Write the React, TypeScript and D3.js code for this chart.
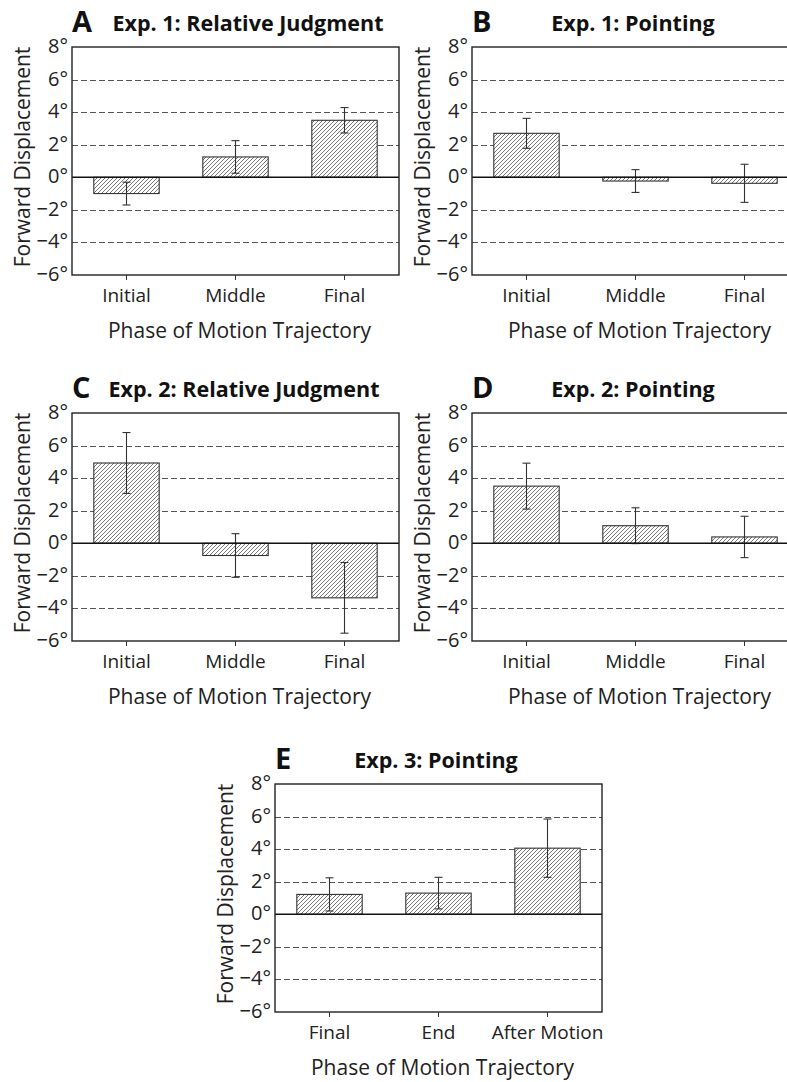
import React, { useRef, useEffect } from "react";
import { select, scaleLinear, scaleBand } from "d3";

// Chart values (degrees of forward displacement)

const phasesExp12 = ["Initial", "Middle", "Final"];
const phasesExp3 = ["Final", "End", "After Motion"];

const exp1RelMean = [-1.0, 1.25, 3.5];
const exp1RelErr = [0.7, 1.0, 0.78];

const exp1PointMean = [2.7, -0.23, -0.37];
const exp1PointErr = [0.92, 0.7, 1.17];

const exp2RelMean = [4.93, -0.75, -3.35];
const exp2RelErr = [1.87, 1.34, 2.17];

const exp2PointMean = [3.51, 1.08, 0.39];
const exp2PointErr = [1.41, 1.1, 1.27];

const exp3PointMean = [1.22, 1.3, 4.06];
const exp3PointErr = [1.02, 0.97, 1.79];

const yTicks = [-6, -4, -2, 0, 2, 4, 6, 8];
const yDomain = [-6, 8];

const panelLetters = ["A", "B", "C", "D", "E"];
const panelTitles = [
  "Exp. 1: Relative Judgment",
  "Exp. 1: Pointing",
  "Exp. 2: Relative Judgment",
  "Exp. 2: Pointing",
  "Exp. 3: Pointing",
];

const yAxisTitle = "Forward Displacement";
const xAxisTitle = "Phase of Motion Trajectory";

const W = 787,
  H = 1082,
  plotW = 327,
  plotH = 228,
  font = "'Open Sans', 'DejaVu Sans', sans-serif";

const panels = [
  { left: 72, top: 47, titleX: 176, cats: phasesExp12, mean: exp1RelMean, err: exp1RelErr },
  { left: 472, top: 47, titleX: 161, cats: phasesExp12, mean: exp1PointMean, err: exp1PointErr },
  { left: 72, top: 413, titleX: 172, cats: phasesExp12, mean: exp2RelMean, err: exp2RelErr },
  { left: 472, top: 413, titleX: 161, cats: phasesExp12, mean: exp2PointMean, err: exp2PointErr },
  { left: 275, top: 784, titleX: 161, cats: phasesExp3, mean: exp3PointMean, err: exp3PointErr },
];

const fmtDeg = (v: number) => (v < 0 ? "\u2212" + Math.abs(v) : "" + v) + "\u00B0";

export default function App() {
  const svgRef = useRef<SVGSVGElement>(null);

  useEffect(() => {
    const svg = select(svgRef.current).attr("width", W).attr("height", H);
    svg.selectAll("*").remove();

    svg.append("rect").attr("width", W).attr("height", H).attr("fill", "#fff");

    // diagonal hatch used for all bars
    const pat = svg
      .append("defs")
      .append("pattern")
      .attr("id", "hatch")
      .attr("patternUnits", "userSpaceOnUse")
      .attr("width", 4)
      .attr("height", 4);
    pat.append("rect").attr("width", 4).attr("height", 4).attr("fill", "#fff");
    pat
      .append("path")
      .attr("d", "M-1,1 l2,-2 M0,4 l4,-4 M3,5 l2,-2")
      .attr("stroke", "#555")
      .attr("stroke-width", 0.8);

    panels.forEach((p, i) => {
      const g = svg.append("g").attr("transform", `translate(${p.left},${p.top})`);

      const x = scaleBand<string>().domain(p.cats).range([0, plotW]).paddingInner(0.4).paddingOuter(0.2);
      const y = scaleLinear().domain(yDomain).range([plotH, 0]);

      // dashed grid
      g.selectAll(".grid")
        .data(yTicks.filter((t) => t !== 0 && t !== yDomain[0] && t !== yDomain[1]))
        .join("line")
        .attr("x1", 0)
        .attr("x2", plotW)
        .attr("y1", (d) => Math.round(y(d)) + 0.5)
        .attr("y2", (d) => Math.round(y(d)) + 0.5)
        .attr("stroke", "#555")
        .attr("stroke-width", 1.2)
        .attr("stroke-dasharray", "6,3");

      // bars
      g.selectAll(".bar")
        .data(p.mean)
        .join("rect")
        .attr("x", (d, j) => x(p.cats[j])!)
        .attr("width", x.bandwidth())
        .attr("y", (d) => y(Math.max(0, d)))
        .attr("height", (d) => Math.abs(y(d) - y(0)))
        .attr("fill", "url(#hatch)")
        .attr("stroke", "#333")
        .attr("stroke-width", 1.1);

      // error bars
      p.mean.forEach((m, j) => {
        const cx = x(p.cats[j])! + x.bandwidth() / 2;
        const eg = g.append("g").attr("stroke", "#333").attr("stroke-width", 1.1);
        eg.append("line").attr("x1", cx).attr("x2", cx).attr("y1", y(m + p.err[j])).attr("y2", y(m - p.err[j]));
        [m + p.err[j], m - p.err[j]].forEach((v) => {
          eg.append("line").attr("x1", cx - 4).attr("x2", cx + 4).attr("y1", y(v)).attr("y2", y(v));
        });
      });

      // zero line
      g.append("line")
        .attr("x1", 0)
        .attr("x2", plotW)
        .attr("y1", y(0))
        .attr("y2", y(0))
        .attr("stroke", "#111")
        .attr("stroke-width", 1.5);

      // frame
      g.append("rect")
        .attr("width", plotW)
        .attr("height", plotH)
        .attr("fill", "none")
        .attr("stroke", "#222")
        .attr("stroke-width", 1.4);

      // x ticks and labels
      p.cats.forEach((c) => {
        const cx = x(c)! + x.bandwidth() / 2;
        g.append("line").attr("x1", cx).attr("x2", cx).attr("y1", plotH).attr("y2", plotH + 5).attr("stroke", "#333");
        g.append("text")
          .attr("x", cx)
          .attr("y", plotH + 27)
          .attr("text-anchor", "middle")
          .attr("font-family", font)
          .attr("font-size", 19)
          .attr("fill", "#222")
          .text(c);
      });

      // y tick labels
      g.selectAll(".ytick")
        .data(yTicks)
        .join("text")
        .attr("x", -4)
        .attr("y", (d) => y(d))
        .attr("dy", "0.3em")
        .attr("text-anchor", "end")
        .attr("font-family", font)
        .attr("font-size", 20)
        .attr("fill", "#222")
        .text((d) => fmtDeg(d));

      // axis titles
      g.append("text")
        .attr("transform", `translate(-42,${plotH / 2 - 4}) rotate(-90)`)
        .attr("text-anchor", "middle")
        .attr("font-family", font)
        .attr("font-size", 21)
        .attr("fill", "#222")
        .text(yAxisTitle);

      g.append("text")
        .attr("x", plotW / 2 + 4)
        .attr("y", plotH + 63)
        .attr("text-anchor", "middle")
        .attr("font-family", font)
        .attr("font-size", 21)
        .attr("fill", "#222")
        .text(xAxisTitle);

      // panel letter and title
      g.append("text")
        .attr("x", 0)
        .attr("y", -15)
        .attr("font-family", font)
        .attr("font-weight", "bold")
        .attr("font-size", 29)
        .attr("fill", "#111")
        .text(panelLetters[i]);

      g.append("text")
        .attr("x", p.titleX)
        .attr("y", -16)
        .attr("text-anchor", "middle")
        .attr("font-family", font)
        .attr("font-weight", "bold")
        .attr("font-size", 21.5)
        .attr("fill", "#111")
        .text(panelTitles[i]);
    });

    return () => {
      svg.selectAll("*").remove();
    };
  }, []);

  return <svg ref={svgRef} style={{ position: "absolute", left: 0, top: 0 }}></svg>;
}
